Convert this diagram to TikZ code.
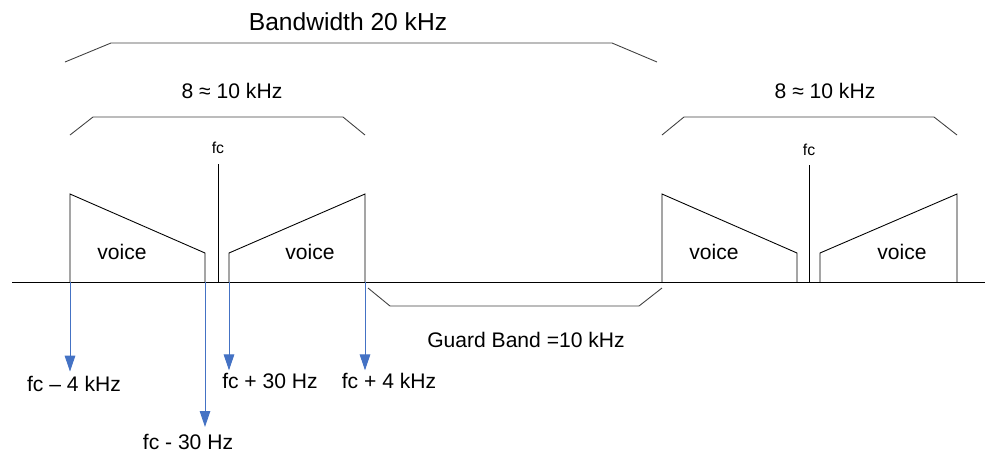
\documentclass[tikz,border=0pt]{standalone}
\usepackage{fontspec}
\setmainfont{Liberation Sans}
\usetikzlibrary{arrows.meta}
\definecolor{arrowblue}{HTML}{4472C4}
\definecolor{edgegrey}{HTML}{404040}

\begin{document}
\begin{tikzpicture}[x=0.02cm,y=-0.02cm,
  lbl/.style={font=\fontsize{12}{14}\selectfont,inner sep=0pt},
  fclbl/.style={font=\fontsize{9}{10}\selectfont,inner sep=0pt},
  brace/.style={line width=0.5pt,edgegrey},
  band/.style={line width=0.5pt,black},
  freq/.style={-{Triangle[length=9pt,width=6pt]},line width=0.5pt,arrowblue,shorten >=2.5pt}]
  \useasboundingbox (0,0) rectangle (985,454);

  % frequency axis
  \coordinate (axl) at (12,282);
  \coordinate (axr) at (985,282);
  \draw[band] (axl) -- (axr);

  % left channel
  \draw[band] (70,282) -- (70,194) -- (205,253) -- (205,282);
  \draw[band] (229,282) -- (229,253) -- (365,194) -- (365,282);
  \draw[band] (218,164) -- (218,282);
  \node[fclbl] (fcl) at (218,148) {fc};
  \node[lbl] (v1) at (122,252) {voice};
  \node[lbl] (v2) at (310,252) {voice};

  % right channel
  \draw[band] (662,282) -- (662,194) -- (797,253) -- (797,282);
  \draw[band] (820,282) -- (820,253) -- (957,194) -- (957,282);
  \draw[band] (809,165) -- (809,282);
  \node[fclbl] (fcr) at (809,150) {fc};
  \node[lbl] (v3) at (714,252) {voice};
  \node[lbl] (v4) at (902,252) {voice};

  % braces
  \draw[brace] (65,62) -- (111,43) -- (612,43) -- (657,62);
  \node[lbl,font=\fontsize{14}{16}\selectfont] (bw) at (348,22) {Bandwidth 20 kHz};
  \draw[brace] (70,135) -- (93,117) -- (343,117) -- (365,135);
  \node[lbl] (bl) at (232,91) {8 ≈ 10 kHz};
  \draw[brace] (662,135) -- (684,117) -- (934,117) -- (957,135);
  \node[lbl] (br) at (825,91) {8 ≈ 10 kHz};
  \draw[brace] (368,288) -- (390,306) -- (639,306) -- (662,288);
  \node[lbl] (gb) at (526,340) {Guard Band =10 kHz};

  % edge frequencies
  \coordinate (lo) at (70,282);
  \coordinate (lc) at (205,282);
  \coordinate (uc) at (229,282);
  \coordinate (hi) at (365,282);
  \node[lbl] (flo) at (74,384) {fc – 4 kHz};
  \node[lbl] (flc) at (188,442) {fc - 30 Hz};
  \node[lbl] (fuc) at (270,381) {fc + 30 Hz};
  \node[lbl] (fhi) at (389,381) {fc + 4 kHz};
  \draw[freq] (lo) -- (lo |- flo.north);
  \draw[freq,shorten >=4pt] (lc) -- (lc |- flc.north);
  \draw[freq,shorten >=1.5pt] (uc) -- (uc |- fuc.north);
  \draw[freq,shorten >=1.5pt] (hi) -- (hi |- fhi.north);
\end{tikzpicture}
\end{document}
